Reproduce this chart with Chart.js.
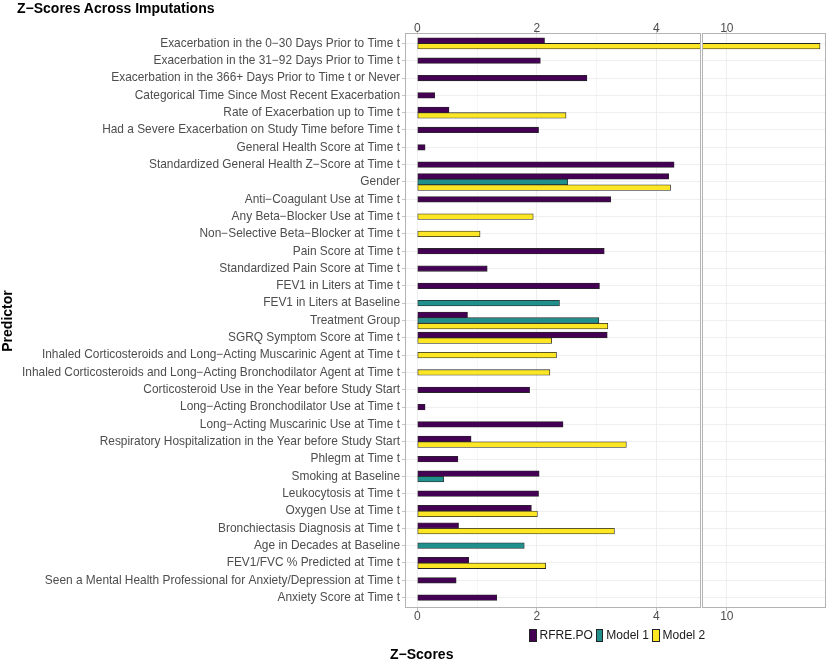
<!DOCTYPE html>
<html>
<head>
    <title>Z-Scores Across Imputations</title>
    <script src="https://cdn.jsdelivr.net/npm/chart.js"></script>
    <style>
        body {
            margin: 0;
            padding: 0;
            background: #fff;
            font-family: "Liberation Sans", Arial, sans-serif;
        }
        #page {
            position: relative;
            width: 830px;
            height: 664px;
            overflow: hidden;
        }
        .wrap { position: absolute; top: 0; height: 664px; }
        #leftWrap { left: 0; width: 701px; }
        #rightWrap { left: 690px; width: 140px; }
        #title {
            position: absolute; left: 17px; top: 0px;
            font-size: 14px; font-weight: bold; color: #000;
        }
        #yTitle {
            position: absolute; left: -28px; top: 313px; width: 70px;
            text-align: center;
            transform: rotate(-90deg);
            font-size: 14px; font-weight: bold; color: #000;
        }
        #xTitle {
            position: absolute; left: 390px; top: 646px;
            font-size: 14px; font-weight: bold; color: #000;
        }
        #legend {
            position: absolute; left: 529px; top: 628px;
            display: flex; align-items: center;
            font-size: 12px; color: #1a1a1a;
        }
        #legend .key {
            display: inline-block; width: 5.5px; height: 11px;
            border: 0.7px solid #222; margin-right: 3px;
        }
        #legend .item { display: flex; align-items: center; margin-right: 3px; }
    </style>
</head>
<body>
<div id="page">
    <div id="leftWrap" class="wrap"><canvas id="leftChart"></canvas></div>
    <div id="rightWrap" class="wrap"><canvas id="rightChart"></canvas></div>
    <div id="title">Z−Scores Across Imputations</div>
    <div id="yTitle">Predictor</div>
    <div id="xTitle">Z−Scores</div>
    <div id="legend"></div>
</div>

<script>
    // categories, top to bottom
    const categories = [
        'Exacerbation in the 0−30 Days Prior to Time t',
        'Exacerbation in the 31−92 Days Prior to Time t',
        'Exacerbation in the 366+ Days Prior to Time t or Never',
        'Categorical Time Since Most Recent Exacerbation',
        'Rate of Exacerbation up to Time t',
        'Had a Severe Exacerbation on Study Time before Time t',
        'General Health Score at Time t',
        'Standardized General Health Z−Score at Time t',
        'Gender',
        'Anti−Coagulant Use at Time t',
        'Any Beta−Blocker Use at Time t',
        'Non−Selective Beta−Blocker at Time t',
        'Pain Score at Time t',
        'Standardized Pain Score at Time t',
        'FEV1 in Liters at Time t',
        'FEV1 in Liters at Baseline',
        'Treatment Group',
        'SGRQ Symptom Score at Time t',
        'Inhaled Corticosteroids and Long−Acting Muscarinic Agent at Time t',
        'Inhaled Corticosteroids and Long−Acting Bronchodilator Agent at Time t',
        'Corticosteroid Use in the Year before Study Start',
        'Long−Acting Bronchodilator Use at Time t',
        'Long−Acting Muscarinic Use at Time t',
        'Respiratory Hospitalization in the Year before Study Start',
        'Phlegm at Time t',
        'Smoking at Baseline',
        'Leukocytosis at Time t',
        'Oxygen Use at Time t',
        'Bronchiectasis Diagnosis at Time t',
        'Age in Decades at Baseline',
        'FEV1/FVC % Predicted at Time t',
        'Seen a Mental Health Professional for Anxiety/Depression at Time t',
        'Anxiety Score at Time t'
    ];

    const seriesNames = ['RFRE.PO', 'Model 1', 'Model 2'];
    const seriesColors = ['#440154', '#21908C', '#FDE725'];

    const rfreValues = [2.13, 2.06, 2.84, 0.29, 0.53, 2.03, 0.13, 4.30, 4.21, 3.24,
        null, null, 3.13, 1.17, 3.05, null, 0.84, 3.18, null, null,
        1.88, 0.13, 2.44, 0.90, 0.68, 2.04, 2.03, 1.91, 0.69, null,
        0.86, 0.65, 1.33];
    const model1Values = [null, null, null, null, null, null, null, null, 2.52, null,
        null, null, null, null, null, 2.38, 3.04, null, null, null,
        null, null, null, null, null, 0.44, null, null, null, 1.79,
        null, null, null];
    const model2Values = [11.56, null, null, null, 2.49, null, null, null, 4.24, null,
        1.94, 1.05, null, null, null, null, 3.19, 2.25, 2.33, 2.22,
        null, null, null, 3.50, null, null, null, 2.01, 3.30, null,
        2.15, null, null];

    const leftTicks = [0, 1, 2, 3, 4];   // odd ones are minor grid lines
    const rightTicks = [10];

    const allSeries = [rfreValues, model1Values, model2Values];
    const dodge = 0.325;
    const FONT = '"Liberation Sans", Arial, sans-serif';

    // dodge the bars inside each category, only over the series that are present
    function buildDatasets() {
        const sets = seriesNames.map((name, s) => ({
            label: name,
            data: [],
            backgroundColor: seriesColors[s],
            borderColor: '#262626',
            borderWidth: 0.8,
            borderSkipped: false,
            grouped: false,
            barThickness: 5.6,
            clip: 0
        }));
        categories.forEach((c, i) => {
            const present = [];
            allSeries.forEach((vals, s) => { if (vals[i] !== null) present.push(s); });
            present.forEach((s, k) => {
                const off = (k - (present.length - 1) / 2) * dodge;
                sets[s].data.push({ x: allSeries[s][i], y: i + off });
            });
        });
        return sets;
    }

    const panelBorder = {
        id: 'panelBorder',
        afterDraw(chart) {
            const a = chart.chartArea;
            const ctx = chart.ctx;
            const l = Math.round(a.left) + 0.5, r = Math.round(a.right) - 0.5;
            const t = Math.round(a.top) + 0.5, b = Math.round(a.bottom) - 0.5;
            ctx.save();
            ctx.strokeStyle = '#B3B3B3';
            ctx.lineWidth = 1;
            ctx.strokeRect(l, t, r - l, b - t);
            ctx.restore();
        }
    };

    function xScale(position, min, max, tickList, onArea) {
        return {
            type: 'linear',
            position: position,
            min: min,
            max: max,
            afterBuildTicks: s => { s.ticks = tickList.map(v => ({ value: v })); },
            afterFit: s => { s.height = position === 'top' ? 33 : 56; },
            border: { display: false },
            grid: {
                drawOnChartArea: onArea,
                color: ctx => (ctx.tick && ctx.tick.value % 2 === 1) ? '#F4F4F4' : '#EBEBEB',
                lineWidth: 0.8,
                tickLength: 3,
                tickColor: ctx => (ctx.tick && ctx.tick.value % 2 === 1) ? 'rgba(0,0,0,0)' : '#B3B3B3'
            },
            ticks: {
                autoSkip: false,
                maxRotation: 0,
                padding: position === 'top' ? -6 : -2,
                color: '#4D4D4D',
                font: { family: FONT, size: 12 },
                callback: v => (v % 2 === 0 ? String(v) : '')
            }
        };
    }

    function yScale(showLabels, width) {
        return {
            type: 'linear',
            reverse: true,
            offset: false,
            min: -0.6,
            max: categories.length - 0.4,
            afterBuildTicks: s => { s.ticks = categories.map((c, i) => ({ value: i })); },
            afterFit: s => { s.width = width; },
            border: { display: false },
            grid: {
                offset: false,
                color: '#EBEBEB',
                lineWidth: 0.8,
                drawTicks: showLabels,
                tickLength: 3,
                tickColor: '#B3B3B3'
            },
            ticks: {
                display: showLabels,
                autoSkip: false,
                padding: 2,
                color: '#4D4D4D',
                font: { family: FONT, size: 11.9 },
                callback: (v, i) => categories[i]
            }
        };
    }

    const common = {
        indexAxis: 'y',
        responsive: true,
        maintainAspectRatio: false,
        animation: false,
        plugins: { legend: { display: false }, tooltip: { enabled: false } }
    };

    new Chart(document.getElementById('leftChart'), {
        type: 'bar',
        data: { datasets: buildDatasets() },
        options: Object.assign({}, common, {
            layout: { padding: { left: 0, right: 0, top: 0, bottom: 0 } },
            scales: {
                x: xScale('bottom', -0.207, 4.75, leftTicks, true),
                x2: xScale('top', -0.207, 4.75, leftTicks, false),
                y: yScale(true, 405)
            }
        }),
        plugins: [panelBorder]
    });

    new Chart(document.getElementById('rightChart'), {
        type: 'bar',
        data: { datasets: buildDatasets() },
        options: Object.assign({}, common, {
            layout: { padding: { left: 0, right: 4, top: 0, bottom: 0 } },
            scales: {
                x: xScale('bottom', 9.585, 11.66, rightTicks, true),
                x2: xScale('top', 9.585, 11.66, rightTicks, false),
                y: yScale(false, 12)
            }
        }),
        plugins: [panelBorder]
    });

    // legend
    const legend = document.getElementById('legend');
    seriesNames.forEach((name, s) => {
        const item = document.createElement('span');
        item.className = 'item';
        const key = document.createElement('span');
        key.className = 'key';
        key.style.background = seriesColors[s];
        item.appendChild(key);
        item.appendChild(document.createTextNode(name));
        legend.appendChild(item);
    });
</script>
</body>
</html>
